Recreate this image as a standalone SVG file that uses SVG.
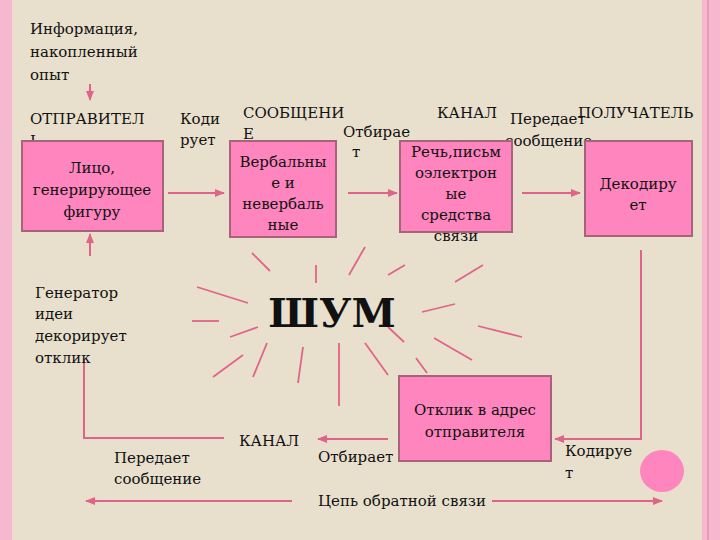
<svg xmlns="http://www.w3.org/2000/svg" width="720" height="540" viewBox="0 0 720 540">
<style>
text{font-family:"DejaVu Serif","Liberation Serif",serif;font-size:15px;fill:#111}
.c{text-anchor:middle}
.box{fill:#ff85bf;stroke:#a8637c;stroke-width:2}
.ln{stroke:#e0648a;stroke-width:2;fill:none}
.ray{stroke:#e0648a;stroke-width:1.8}
</style>
<defs>
<marker id="a" viewBox="0 0 10 10" refX="9" refY="5" markerWidth="5" markerHeight="5" orient="auto-start-reverse"><path d="M0,1L10,5L0,9z" fill="#e0648a"/></marker>
</defs>
<rect width="720" height="540" fill="#e8e0cd"/>
<rect x="0" y="0" width="12" height="540" fill="#f6b8cf"/>
<rect x="702" y="0" width="18" height="540" fill="#f6b8cf"/>
<line x1="708" y1="0" x2="708" y2="540" stroke="#e88fb0" stroke-width="1.5"/>
<g id="connectors">
<line class="ln" x1="90" y1="84" x2="90" y2="100" marker-end="url(#a)"/>
<line class="ln" x1="168" y1="193" x2="224" y2="193" marker-end="url(#a)"/>
<line class="ln" x1="348" y1="193" x2="397" y2="193" marker-end="url(#a)"/>
<line class="ln" x1="522" y1="193" x2="580" y2="193" marker-end="url(#a)"/>
<polyline class="ln" points="641,250 641,439 555,439" marker-end="url(#a)"/>
<line class="ln" x1="388" y1="439" x2="318" y2="439" marker-end="url(#a)"/>
<polyline class="ln" points="224,438 84,438 84,360"/>
<line class="ln" x1="90" y1="256" x2="90" y2="234" marker-end="url(#a)"/>
<line class="ln" x1="292" y1="501" x2="86" y2="501" marker-end="url(#a)"/>
<line class="ln" x1="492" y1="501" x2="662" y2="501" marker-end="url(#a)"/>
</g>
<g id="rays">
<line class="ray" x1="252" y1="253" x2="270" y2="271"/>
<line class="ray" x1="316" y1="265" x2="316" y2="283"/>
<line class="ray" x1="365" y1="247" x2="349" y2="275"/>
<line class="ray" x1="405" y1="265" x2="388" y2="275"/>
<line class="ray" x1="483" y1="265" x2="455" y2="282"/>
<line class="ray" x1="197" y1="287" x2="248" y2="303"/>
<line class="ray" x1="192" y1="321" x2="219" y2="321"/>
<line class="ray" x1="455" y1="304" x2="422" y2="312"/>
<line class="ray" x1="230" y1="337" x2="258" y2="327"/>
<line class="ray" x1="478" y1="326" x2="522" y2="337"/>
<line class="ray" x1="388" y1="327" x2="404" y2="342"/>
<line class="ray" x1="434" y1="338" x2="472" y2="360"/>
<line class="ray" x1="213" y1="377" x2="243" y2="355"/>
<line class="ray" x1="267" y1="343" x2="253" y2="377"/>
<line class="ray" x1="303" y1="347" x2="298" y2="383"/>
<line class="ray" x1="339" y1="343" x2="339" y2="406"/>
<line class="ray" x1="365" y1="343" x2="388" y2="375"/>
<line class="ray" x1="416" y1="358" x2="427" y2="373"/>
</g>
<g id="labels">
<text x="30" y="34">Информация,</text>
<text x="30" y="57">накопленный</text>
<text x="30" y="80">опыт</text>
<text x="30" y="124">ОТПРАВИТЕЛ</text>
<text x="30" y="146">Ь</text>
<text x="180" y="124">Коди</text>
<text x="180" y="145">рует</text>
<text x="243" y="118">СООБЩЕНИ</text>
<text x="243" y="139">Е</text>
<text x="343" y="137">Отбирае</text>
<text x="352" y="157">т</text>
<text x="437" y="118">КАНАЛ</text>
<text x="510" y="124">Передает</text>
<text x="505" y="146">сообщение</text>
<text x="578" y="118">ПОЛУЧАТЕЛЬ</text>
<text x="332" y="327" class="c" style="font-size:40px;font-weight:bold">ШУМ</text>
<text x="35" y="298">Генератор</text>
<text x="35" y="319">идеи</text>
<text x="35" y="341">декорирует</text>
<text x="35" y="363">отклик</text>
<text x="239" y="446">КАНАЛ</text>
<text x="114" y="463">Передает</text>
<text x="114" y="484">сообщение</text>
<text x="318" y="462">Отбирает</text>
<text x="565" y="456">Кодируе</text>
<text x="565" y="478">т</text>
<text x="402" y="506" class="c">Цепь обратной связи</text>
</g>
<g id="sender"><rect class="box" x="22" y="141" width="141" height="90"/>
<text class="c" x="92" y="173">Лицо,</text><text class="c" x="92" y="195">генерирующее</text><text class="c" x="92" y="217">фигуру</text></g>
<g id="message"><rect class="box" x="230" y="141" width="106" height="96"/>
<text class="c" x="283" y="167">Вербальны</text><text class="c" x="283" y="188">е и</text><text class="c" x="283" y="209">невербаль</text><text class="c" x="283" y="230">ные</text></g>
<g id="channel"><rect class="box" x="400" y="141" width="112" height="91"/>
<text class="c" x="456" y="157">Речь,письм</text><text class="c" x="456" y="178">оэлектрон</text><text class="c" x="456" y="199">ые</text><text class="c" x="456" y="220">средства</text><text class="c" x="456" y="241">связи</text></g>
<g id="receiver"><rect class="box" x="585" y="141" width="107" height="95"/>
<text class="c" x="638" y="189">Декодиру</text><text class="c" x="638" y="210">ет</text></g>
<g id="response"><rect class="box" x="399" y="376" width="152" height="85"/>
<text class="c" x="475" y="415">Отклик в адрес</text><text class="c" x="475" y="437">отправителя</text></g>
<ellipse id="dot" cx="662" cy="471" rx="22" ry="21" fill="#ff85bf"/>
</svg>
